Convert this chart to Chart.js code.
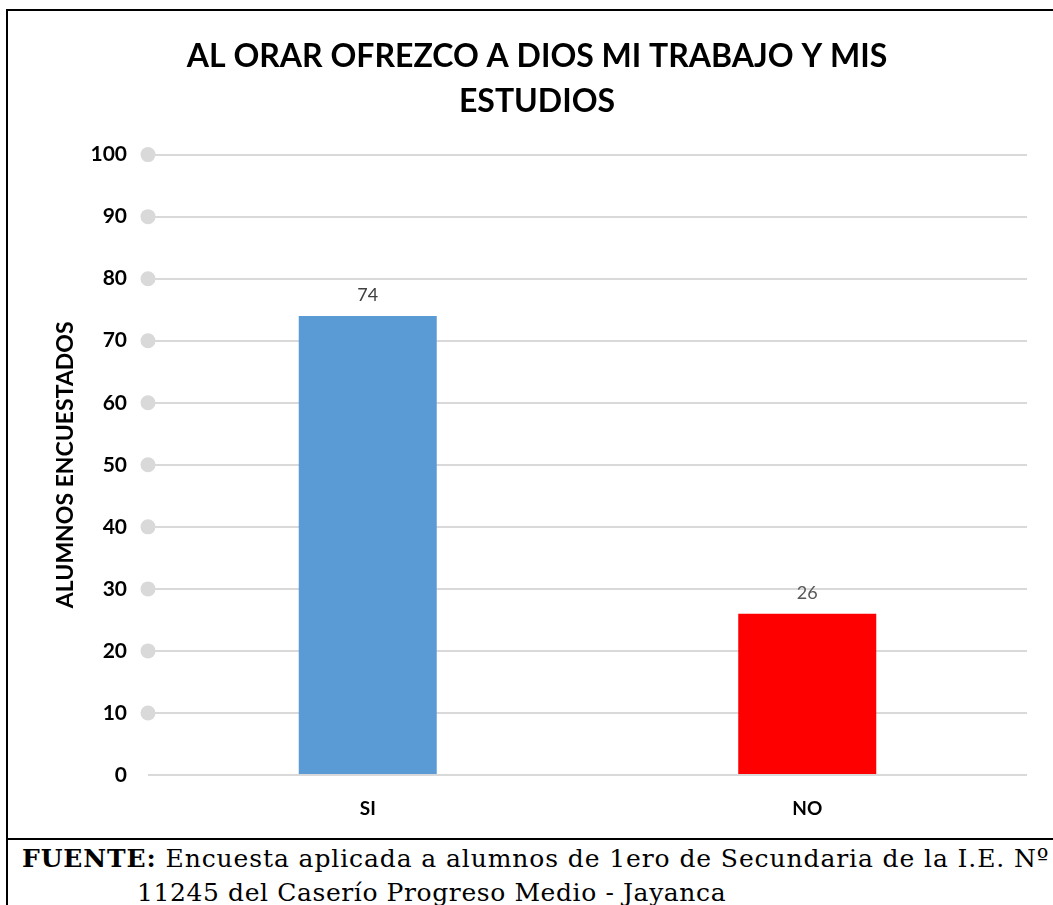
<!DOCTYPE html>
<html><head><meta charset="utf-8">
<script src="https://cdn.jsdelivr.net/npm/chart.js@4"></script>
<style>
html,body{margin:0;padding:0;background:#fff;width:1053px;height:905px;overflow:hidden}
#frame{position:absolute;left:6px;top:9px;width:1100px;height:900px;border-left:2px solid #000;border-top:2px solid #000;box-sizing:border-box}
#wrap{position:absolute;left:8px;top:11px;width:1045px;height:827px}
#sep{position:absolute;left:6px;top:838px;width:1100px;height:2px;background:#000}
.foot{position:absolute;font-family:"DejaVu Serif",serif;font-size:25px;line-height:25px;letter-spacing:0.9px;color:#000;white-space:nowrap}
</style></head>
<body>
<div id="frame"></div>
<div id="wrap"><canvas id="c"></canvas></div>
<div id="sep"></div>
<div class="foot" id="f1" style="left:22px;top:846px"><b>FUENTE:</b> Encuesta aplicada a alumnos de 1ero de Secundaria de la I.E. Nº</div>
<div class="foot" id="f2" style="left:137px;top:880px;letter-spacing:0.6px">11245 del Caserío Progreso Medio - Jayanca</div>
<script>
const titleLines = ['AL ORAR OFREZCO A DIOS MI TRABAJO Y MIS', 'ESTUDIOS'];
const yAxisTitle = 'ALUMNOS ENCUESTADOS';
const categories = ['SI', 'NO'];
const values = [74, 26];
const barColors = ['#5B9BD5', '#FF0000'];
const labelColors = ['#404040', '#595959'];
const yMin = 0, yMax = 100, yStep = 10;

const titleShift = {
  id: 'titleShift',
  afterLayout(chart) {
    const tb = chart.titleBlock;
    if (tb) { tb.left += 39; }
  }
};
const gridDots = {
  id: 'gridDots',
  beforeDatasetsDraw(chart) {
    const y = chart.scales.y, ctx = chart.ctx;
    ctx.save();
    ctx.fillStyle = '#d9d9d9';
    y.ticks.forEach(t => {
      if (t.value === 0) return;
      ctx.beginPath();
      ctx.arc(chart.chartArea.left, y.getPixelForValue(t.value), 7.5, 0, Math.PI * 2);
      ctx.fill();
    });
    ctx.restore();
  }
};
const valueLabels = {
  id: 'valueLabels',
  afterDatasetsDraw(chart) {
    const ctx = chart.ctx;
    const meta = chart.getDatasetMeta(0);
    ctx.save();
    ctx.font = '18px Lato';
    ctx.textAlign = 'center';
    ctx.textBaseline = 'middle';
    meta.data.forEach((bar, i) => {
      ctx.fillStyle = labelColors[i];
      ctx.fillText(String(values[i]), bar.x, bar.y - 21);
    });
    ctx.restore();
  }
};

new Chart(document.getElementById('c'), {
  type: 'bar',
  data: {
    labels: categories,
    datasets: [{ data: values, backgroundColor: barColors, borderWidth: 0,
      categoryPercentage: 1, barPercentage: 0.314 }]
  },
  options: {
    responsive: true, maintainAspectRatio: false, animation: false,
    layout: { padding: { top: 23, right: 26, bottom: 21, left: 0 } },
    plugins: {
      legend: { display: false }, tooltip: { enabled: false },
      title: { display: true, text: titleLines, color: '#000',
        font: { family: 'Lato', size: 32, weight: 'bold', lineHeight: 1.4 },
        padding: { top: 0, bottom: 31 } }
    },
    scales: {
      x: {
        afterFit(s) { s.height = 42; },
        grid: { display: false, drawTicks: false }, border: { display: false },
        ticks: { color: '#000', padding: 22, font: { family: 'Lato', size: 19, weight: 'bold' } }
      },
      y: {
        min: yMin, max: yMax,
        afterFit(s) { s.width = 140; },
        grid: { color: '#d9d9d9', lineWidth: 2, drawTicks: false },
        border: { display: false },
        ticks: { stepSize: yStep, color: '#000', padding: 21, font: { family: 'Lato', size: 21, weight: 'bold' } },
        title: { display: true, text: yAxisTitle, color: '#000',
          font: { family: 'Lato', size: 23, weight: 'bold', lineHeight: 1.2 },
          padding: { top: 44, bottom: 0 } }
      }
    }
  },
  plugins: [titleShift, gridDots, valueLabels]
});
</script>
</body></html>
